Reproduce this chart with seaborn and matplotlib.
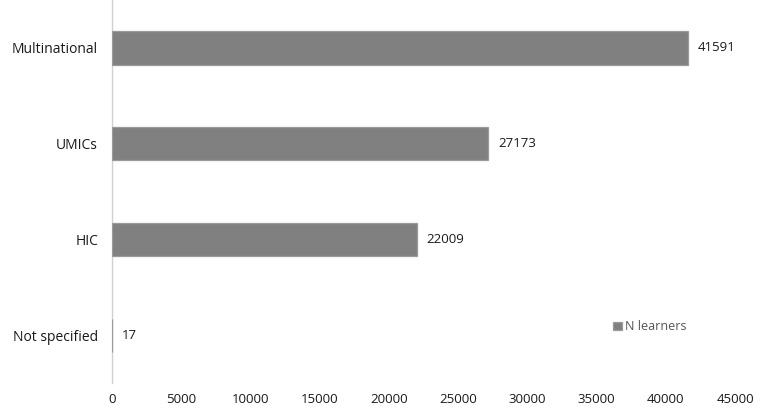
import seaborn as sns
import matplotlib.pyplot as plt
import pandas as pd

categories = ["Multinational", "UMICs", "HIC", "Not specified"]
learners = [41591, 27173, 22009, 17]
series_name = "N learners"
x_ticks = [0, 5000, 10000, 15000, 20000, 25000, 30000, 35000, 40000, 45000]

df = pd.DataFrame({"category": categories, "value": learners, "series": series_name})

sns.set_theme(style="white")
plt.rcParams['font.family'] = ['Open Sans', 'DejaVu Sans']

fig = plt.figure(figsize=(7.65, 4.12), dpi=100)
ax = fig.add_axes([0.1464, 0.07, 0.8144, 0.93])

sns.barplot(data=df, x="value", y="category", hue="series", orient="h",
            palette=["#808080"], width=0.35, edgecolor="#9a9a9a", linewidth=0.9,
            ax=ax, zorder=3)

# value labels next to each bar
for p, v in zip(ax.patches, learners):
    ax.text(p.get_width() + 700, p.get_y() + p.get_height() / 2, str(v),
            va="center", ha="left", fontsize=9.5, color="#1a1a1a")

ax.set_xlim(0, 45000)
ax.set_ylim(3.5, -0.5)
ax.set_xticks(x_ticks)
ax.set_xticklabels([str(t) for t in x_ticks])
ax.set_xlabel("")
ax.set_ylabel("")
ax.tick_params(axis="both", length=0, labelsize=9.5, labelcolor="#1a1a1a")
ax.tick_params(axis="y", labelsize=10, pad=10)
ax.tick_params(axis="x", pad=7)

for s in ["top", "right", "bottom"]:
    ax.spines[s].set_visible(False)
ax.spines["left"].set_color("#d0d0d0")
ax.spines["left"].set_linewidth(1)
ax.spines["left"].set_zorder(1)

leg = ax.legend(loc="center left", bbox_to_anchor=(0.786, 0.147), frameon=False,
                fontsize=9, handlelength=0.7, handleheight=0.7,
                handletextpad=0.3, labelcolor="#555555")

fig.savefig("out.png", dpi=100)
